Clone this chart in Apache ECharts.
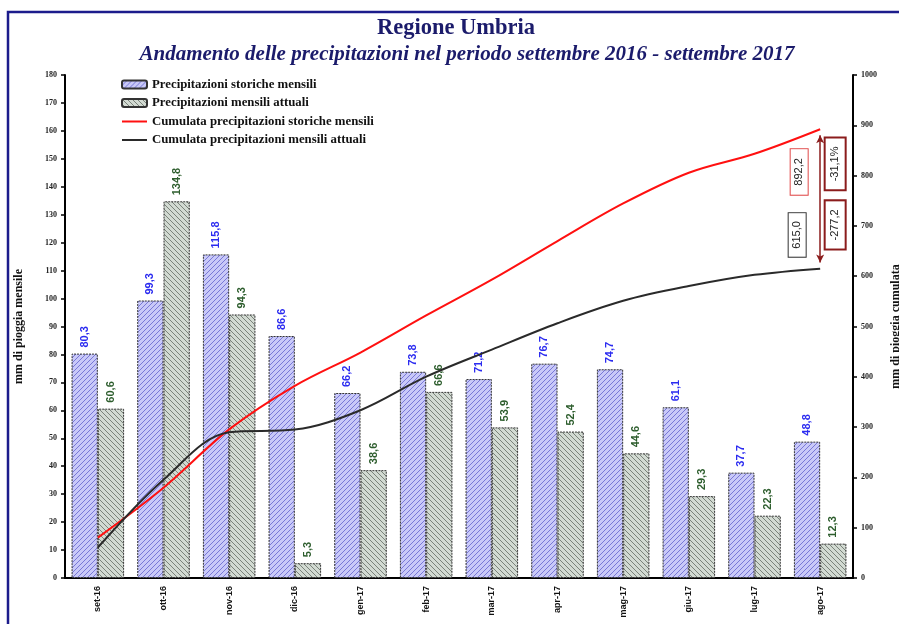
<!DOCTYPE html>
<html>
<head>
<meta charset="utf-8">
<title>Regione Umbria - precipitazioni</title>
<script src="https://cdn.jsdelivr.net/npm/echarts@6/dist/echarts.min.js"></script>
<style>
  html, body { margin: 0; padding: 0; background: #ffffff; }
  #chart { width: 899px; height: 624px; }
</style>
</head>
<body>
<div id="chart"></div>
<script>
// Months of the period
const months = ['set-16', 'ott-16', 'nov-16', 'dic-16', 'gen-17', 'feb-17',
                'mar-17', 'apr-17', 'mag-17', 'giu-17', 'lug-17', 'ago-17'];

// Monthly rainfall (mm)
const storiche = [80.3, 99.3, 115.8, 86.6, 66.2, 73.8, 71.2, 76.7, 74.7, 61.1, 37.7, 48.8];
const attuali  = [60.6, 134.8, 94.3, 5.3, 38.6, 66.6, 53.9, 52.4, 44.6, 29.3, 22.3, 12.3];

// Cumulative rainfall (mm)
const cumStoriche = [80.3, 179.6, 295.4, 382.0, 448.2, 522.0, 593.2, 669.9, 744.6, 805.7, 843.4, 892.2];
const cumAttuali  = [60.6, 195.4, 289.7, 295.0, 333.6, 400.2, 454.1, 506.5, 551.1, 580.4, 602.7, 615.0];

// Summary figures shown beside the last month
const totStoriche = 892.2;
const totAttuali = 615.0;
const differenza = -277.2;
const differenzaPct = -31.1;

const fmt = v => v.toFixed(1).replace('.', ',');

// Hatched fills for the bars
function hatch(base, line, dir) {
  const c = document.createElement('canvas');
  c.width = 5; c.height = 5;
  const g = c.getContext('2d');
  g.fillStyle = base;
  g.fillRect(0, 0, 5, 5);
  g.strokeStyle = line;
  g.lineWidth = 0.9;
  g.beginPath();
  if (dir > 0) {
    g.moveTo(-1, 6); g.lineTo(6, -1);
    g.moveTo(-1, 1); g.lineTo(1, -1);
    g.moveTo(4, 6); g.lineTo(6, 4);
  } else {
    g.moveTo(-1, -1); g.lineTo(6, 6);
    g.moveTo(4, -1); g.lineTo(6, 1);
    g.moveTo(-1, 4); g.lineTo(1, 6);
  }
  g.stroke();
  return { image: c, repeat: 'repeat' };
}

const blueFill = hatch('#c9c9f8', '#6e6ed2', 1);
const greenFill = hatch('#d2dad2', '#6f786f', -1);

const chart = echarts.init(document.getElementById('chart'), null, { renderer: 'canvas' });

const serif = 'Liberation Serif';
const sans = 'Liberation Sans';

const lineLegend = { itemStyle: { opacity: 0 } };

// Frame and headings
const frame = {
  type: 'rect', silent: true, z: -1,
  shape: { x: 8, y: 12, width: 910, height: 640 },
  style: { fill: 'none', stroke: '#1c1c8c', lineWidth: 2.5 }
};
const heading = {
  type: 'text', silent: true, x: 456, y: 28,
  style: {
    text: 'Regione Umbria', align: 'center', verticalAlign: 'middle',
    font: 'bold 22.5px "Liberation Serif"', fill: '#1b1b6b'
  }
};
const subheading = {
  type: 'text', silent: true, x: 467, y: 55,
  style: {
    text: 'Andamento delle precipitazioni nel periodo settembre 2016 - settembre 2017',
    align: 'center', verticalAlign: 'middle',
    font: 'italic bold 21px "Liberation Serif"', fill: '#1b1b6b'
  }
};

const option = {
  backgroundColor: '#ffffff',
  animation: false,
  legend: {
    orient: 'vertical',
    left: 121, top: 78, padding: 0,
    itemWidth: 25, itemHeight: 8, itemGap: 5.5,
    textStyle: { fontFamily: serif, fontWeight: 'bold', fontSize: 12.8, color: '#111' },
    data: [
      { name: 'Precipitazioni storiche mensili' },
      { name: 'Precipitazioni mensili attuali' },
      Object.assign({ name: 'Cumulata precipitazioni storiche mensili' }, lineLegend),
      Object.assign({ name: 'Cumulata precipitazioni mensili attuali' }, lineLegend)
    ]
  },
  grid: { left: 65, right: 46, top: 75, bottom: 46, outerBoundsMode: 'none', containLabel: false },
  xAxis: {
    type: 'category',
    data: months,
    boundaryGap: true,
    axisLine: { lineStyle: { color: '#000', width: 2 } },
    axisTick: { length: 5, lineStyle: { color: '#000', width: 1.5 } },
    axisLabel: {
      rotate: 90, margin: 8,
      fontFamily: sans, fontWeight: 'bold', fontSize: 9, color: '#111'
    }
  },
  yAxis: [
    {
      type: 'value', min: 0, max: 180, interval: 10,
      name: 'mm di pioggia mensile',
      nameLocation: 'middle', nameRotate: 90, nameGap: 40,
      nameTextStyle: { fontFamily: serif, fontWeight: 'bold', fontSize: 12, color: '#111' },
      axisLine: { show: true, lineStyle: { color: '#000', width: 2 } },
      axisTick: { show: true, length: 4, lineStyle: { color: '#000', width: 1.5 } },
      axisLabel: { fontFamily: serif, fontWeight: 'bold', fontSize: 8, color: '#222', margin: 8 },
      splitLine: { show: false }
    },
    {
      type: 'value', min: 0, max: 1000, interval: 100,
      name: 'mm di pioggia cumulata',
      nameLocation: 'middle', nameRotate: 90, nameGap: 37,
      nameTextStyle: { fontFamily: serif, fontWeight: 'bold', fontSize: 12, color: '#111' },
      axisLine: { show: true, lineStyle: { color: '#000', width: 2 } },
      axisTick: { show: true, length: 4, lineStyle: { color: '#000', width: 1.5 } },
      axisLabel: {
        fontFamily: serif, fontWeight: 'bold', fontSize: 8, color: '#222', margin: 8,
        formatter: v => String(v)
      },
      splitLine: { show: false }
    }
  ],
  series: [
    {
      name: 'Precipitazioni storiche mensili',
      type: 'bar',
      data: storiche,
      barGap: '0%',
      barCategoryGap: '20%',
      itemStyle: { color: blueFill, borderColor: '#333', borderWidth: 1, borderType: [2, 1] },
      label: {
        show: true, position: 'top', rotate: 90, distance: 6, align: 'left', verticalAlign: 'middle',
        formatter: p => fmt(p.value),
        fontFamily: sans, fontWeight: 'bold', fontSize: 11, color: '#2b2bf0'
      },
      z: 2
    },
    {
      name: 'Precipitazioni mensili attuali',
      type: 'bar',
      data: attuali,
      itemStyle: { color: greenFill, borderColor: '#333', borderWidth: 1, borderType: [2, 1] },
      label: {
        show: true, position: 'top', rotate: 90, distance: 6, align: 'left', verticalAlign: 'middle',
        formatter: p => fmt(p.value),
        fontFamily: sans, fontWeight: 'bold', fontSize: 11, color: '#2e5e2e'
      },
      z: 2
    },
    {
      name: 'Cumulata precipitazioni storiche mensili',
      type: 'line',
      yAxisIndex: 1,
      data: cumStoriche,
      smooth: 0.35,
      symbol: 'none',
      lineStyle: { color: '#ff1010', width: 2 },
      itemStyle: { color: '#ff1010' },
      z: 5
    },
    {
      name: 'Cumulata precipitazioni mensili attuali',
      type: 'line',
      yAxisIndex: 1,
      data: cumAttuali,
      smooth: 0.35,
      symbol: 'none',
      lineStyle: { color: '#2a2a2a', width: 2 },
      itemStyle: { color: '#2a2a2a' },
      z: 5,
      markLine: {
        silent: true,
        symbol: ['arrow', 'arrow'],
        symbolSize: [6, 8],
        label: { show: false },
        lineStyle: { color: '#8b1c1c', width: 1.5, type: 'solid' },
        data: [[
          { coord: [months.length - 1, totStoriche - 12] },
          { coord: [months.length - 1, totAttuali + 12] }
        ]]
      }
    }
  ],
  graphic: [frame, heading, subheading]
};

chart.setOption(option);

// Value boxes next to the final month, placed from the data
function boxes() {
  const last = months.length - 1;
  const pTop = chart.convertToPixel({ xAxisIndex: 0, yAxisIndex: 1 }, [last, totStoriche]);
  const pBot = chart.convertToPixel({ xAxisIndex: 0, yAxisIndex: 1 }, [last, totAttuali]);
  const xc = pTop[0];
  const mid = (pTop[1] + pBot[1]) / 2;
  function box(x, y, text, stroke, lw, pad) {
    return {
      type: 'text', silent: true, z: 10,
      x: x, y: y, rotation: Math.PI / 2,
      style: {
        text: text, x: 0, y: 0, align: 'center', verticalAlign: 'middle',
        font: '11px "Liberation Sans"', fill: '#222',
        backgroundColor: '#fff', borderColor: stroke, borderWidth: lw,
        padding: pad
      }
    };
  }
  chart.setOption({
    graphic: [
      frame, heading, subheading,
      box(xc - 21, mid - 27, fmt(totStoriche), '#e04848', 1, [3, 9, 3, 9]),
      box(xc - 23, mid + 36, fmt(totAttuali), '#333', 1, [3, 8, 3, 8]),
      box(xc + 15, mid - 35, fmt(differenzaPct) + '%', '#8b1c1c', 2, [4, 8, 4, 8]),
      box(xc + 15, mid + 26, fmt(differenza), '#8b1c1c', 2, [4, 8, 4, 8])
    ]
  });
}
boxes();
</script>
</body>
</html>
